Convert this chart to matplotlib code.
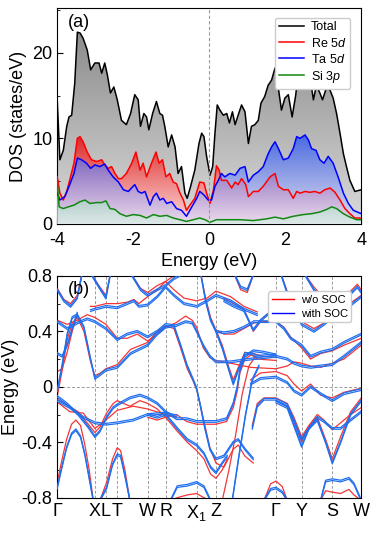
import numpy as np
import matplotlib
matplotlib.use("Agg")
import matplotlib.pyplot as plt
from matplotlib.lines import Line2D
from matplotlib.ticker import MultipleLocator

plt.rcParams['font.family'] = ['Liberation Sans', 'DejaVu Sans']
plt.rcParams['mathtext.fontset'] = 'custom'
plt.rcParams['mathtext.it'] = 'Liberation Sans:italic'
plt.rcParams['mathtext.rm'] = 'Liberation Sans'

# ---------------- DOS data (panel a) ----------------
E_tot = [-4.00,-3.93,-3.84,-3.75,-3.69,-3.62,-3.54,-3.47,-3.40,-3.32,-3.21,-3.12,-3.01,-2.90,-2.83,-2.75,-2.68,-2.60,-2.51,-2.42,
         -2.31,-2.18,-2.07,-1.96,-1.87,-1.81,-1.72,-1.65,-1.59,-1.49,-1.39,-1.30,-1.23,-1.17,-1.08,-0.99,-0.90,-0.82,-0.73,-0.64,
         -0.58,-0.49,-0.38,-0.27,-0.20,-0.14,-0.07,0.02,0.09,0.15,0.21,0.28,0.37,0.46,0.53,0.61,0.68,0.76,0.85,0.94,
         1.03,1.11,1.20,1.29,1.36,1.46,1.55,1.64,1.73,1.82,1.90,1.99,2.08,2.18,2.27,2.34,2.43,2.52,2.61,2.69,
         2.74,2.82,2.91,2.98,3.09,3.18,3.26,3.35,3.44,3.53,3.61,3.70,3.83,4.00]
dos_total = [14.5,7.5,8.6,11.4,12.5,12.7,16.4,22.4,22.3,21.7,20.3,18.0,18.8,18.8,17.6,18.8,17.4,15.3,16.0,14.5,
             12.1,11.6,12.9,15.1,14.5,11.4,12.9,12.5,11.0,12.9,14.3,12.9,12.7,11.4,9.0,10.4,9.0,5.9,6.7,3.6,
             3.0,4.4,6.3,9.4,10.6,10.2,7.9,5.7,6.7,10.6,13.9,13.3,12.7,12.9,11.8,13.1,11.6,12.7,13.9,13.1,
             9.4,11.4,11.6,12.1,14.1,14.9,16.2,16.8,18.2,15.8,13.3,14.7,15.1,12.5,14.9,17.4,16.4,17.4,16.4,16.0,
             14.5,16.2,15.3,14.5,16.0,15.6,14.7,12.9,10.6,8.2,6.7,5.1,3.8,4.0]

E_re = [-4.00,-3.93,-3.84,-3.75,-3.65,-3.56,-3.47,-3.40,-3.32,-3.21,-3.10,-2.96,-2.83,-2.75,-2.66,-2.57,-2.48,-2.39,-2.31,-2.18,
        -2.04,-1.93,-1.82,-1.74,-1.65,-1.52,-1.40,-1.32,-1.23,-1.14,-1.04,-0.95,-0.86,-0.77,-0.68,-0.60,-0.51,-0.38,-0.25,-0.14,
        -0.07,0.02,0.11,0.19,0.26,0.32,0.46,0.59,0.68,0.76,0.85,0.96,1.03,1.16,1.29,1.42,1.60,1.73,1.82,1.95,
        2.08,2.21,2.30,2.39,2.52,2.65,2.78,2.91,3.04,3.18,3.31,3.44,3.57,3.70,3.83,4.00]
dos_re5d = [5.5,3.6,2.8,3.8,5.5,7.1,10.0,10.2,9.6,8.4,7.5,7.3,7.5,6.9,6.5,6.7,5.9,5.3,5.3,5.9,
            7.1,8.4,6.3,7.1,5.5,7.1,8.4,7.1,7.5,5.5,5.9,4.9,4.7,3.6,2.8,1.6,2.2,3.0,4.9,4.8,
            3.6,2.4,4.0,6.8,6.3,5.1,5.1,4.2,4.9,4.6,5.3,4.6,3.2,3.8,3.8,4.4,5.5,5.9,4.4,4.0,
            4.0,3.0,3.8,3.6,3.8,3.7,3.8,3.6,4.0,4.2,3.7,2.8,1.8,1.2,0.7,0.7]

E_ta = [-4.00,-3.93,-3.80,-3.67,-3.56,-3.47,-3.36,-3.23,-3.12,-3.01,-2.88,-2.75,-2.66,-2.53,-2.39,-2.26,-2.13,-1.96,-1.87,-1.78,
        -1.69,-1.56,-1.47,-1.39,-1.30,-1.21,-1.12,-0.99,-0.86,-0.73,-0.60,-0.46,-0.33,-0.25,-0.14,-0.03,0.06,0.15,0.24,0.32,
        0.41,0.54,0.68,0.81,0.94,1.03,1.16,1.29,1.42,1.55,1.64,1.73,1.82,1.95,2.08,2.21,2.30,2.39,2.52,2.61,
        2.69,2.81,2.91,3.02,3.13,3.26,3.39,3.53,3.66,3.79,4.00]
dos_ta5d = [3.6,2.8,3.2,4.6,5.9,7.7,7.5,7.1,6.5,6.9,6.7,7.0,6.3,5.5,4.9,4.0,3.8,4.6,3.8,3.6,
            3.8,2.2,3.2,3.6,2.8,3.0,2.4,2.6,1.8,1.6,0.9,2.0,3.0,3.8,3.4,2.8,2.8,4.4,5.1,5.9,
            5.5,5.9,5.7,6.5,6.7,4.9,5.7,6.1,6.7,8.2,9.0,9.6,8.8,7.5,7.7,8.8,10.2,10.0,10.4,9.8,
            8.8,8.6,7.5,7.1,7.9,7.1,5.5,3.6,2.4,1.6,1.2]

E_si = [-4.00,-3.95,-3.84,-3.71,-3.56,-3.40,-3.27,-3.14,-2.96,-2.83,-2.72,-2.61,-2.48,-2.35,-2.18,-2.00,-1.82,-1.65,-1.47,-1.30,
        -1.12,-0.95,-0.77,-0.60,-0.42,-0.25,-0.11,0.02,0.19,0.46,0.81,1.16,1.51,1.73,1.95,2.21,2.47,2.69,2.91,3.09,
        3.22,3.35,3.53,3.70,3.88,4.00]
dos_si3p = [4.9,2.0,1.8,2.0,2.2,2.6,2.8,2.4,2.5,2.5,2.7,1.8,1.7,1.2,0.9,1.1,1.0,0.7,1.1,0.9,
            1.0,0.7,0.5,0.3,0.5,0.7,0.5,0.2,0.5,0.5,0.5,0.4,0.6,0.8,0.6,0.9,1.1,1.2,1.4,1.7,
            2.0,1.8,1.2,0.8,0.5,0.5]

# ---------------- Band data (panel b) ----------------
kpt_pos = [0.0, 1.13, 1.46, 1.80, 2.71, 3.25, 4.18, 4.76, 6.56, 7.33, 8.25, 9.12]
kpt_labels = ['Γ', 'X', 'L', 'T', 'W', 'R', 'X$_1$', 'Z', 'Γ', 'Y', 'S', 'W']
soc_split = 0.012

k_a = [0, 0.13, 0.28, 0.43, 0.56, 0.70, 0.83, 0.96, 1.08]
soc_a = [-0.73, -0.59, -0.44, -0.34, -0.31, -0.36, -0.49, -0.66, -0.82]
nosoc_a = [-0.69, -0.54, -0.38, -0.27, -0.24, -0.28, -0.42, -0.60, -0.82]

k_b = [1.28, 1.48, 1.66, 1.80, 1.90, 2.03, 2.18]
soc_b = [-0.82, -0.73, -0.56, -0.49, -0.50, -0.64, -0.82]
nosoc_b = [-0.82, -0.69, -0.52, -0.44, -0.46, -0.60, -0.82]

k_c = [0, 0.28, 0.63, 0.93, 1.13, 1.28, 1.48, 1.68, 1.80, 2.18, 2.48, 2.71, 3.00, 3.25, 3.58, 3.88, 4.18, 4.76,
       5.08, 5.28, 5.40, 5.48, 5.63, 5.88, 6.18, 6.56]
soc_c = [-0.07, -0.12, -0.20, -0.29, -0.36, -0.32, -0.22, -0.15, -0.13, -0.08, -0.06, -0.08, -0.12, -0.18, -0.23,
         -0.23, -0.25, -0.25, -0.23, -0.12, 0.00, 0.12, 0.22, 0.26, 0.25, 0.23]
nosoc_c = [-0.09, -0.13, -0.18, -0.27, -0.33, -0.29, -0.19, -0.12, -0.10, -0.14, -0.10, -0.12, -0.16, -0.22, -0.20,
           -0.25, -0.27, -0.27, -0.25, -0.15, -0.03, 0.10, 0.20, 0.24, 0.22, 0.21]

k_d = [0, 0.38, 0.78, 1.13, 1.46, 1.80, 2.28, 2.71, 3.25, 3.58]
soc_d = [-0.10, -0.15, -0.22, -0.26, -0.27, -0.26, -0.24, -0.20, -0.19, -0.21]
nosoc_d = [-0.11, -0.18, -0.19, -0.30, -0.24, -0.17, -0.14, -0.16, -0.20, -0.22]

k_e = [0, 0.15, 0.30, 0.45, 0.60, 0.80, 1.00, 1.13, 1.30, 1.46, 1.80, 2.20, 2.71, 3.00, 3.25, 3.50, 3.70, 3.90,
       4.08, 4.18, 4.28, 4.43, 4.58, 4.76, 5.00, 5.28, 5.43, 5.63, 5.88]
soc_e = [-0.03, 0.16, 0.38, 0.50, 0.52, 0.43, 0.20, 0.06, 0.09, 0.12, 0.14, 0.24, 0.30, 0.38, 0.43, 0.44, 0.30, 0.15,
         0.05, -0.01, -0.12, -0.30, -0.45, -0.52, -0.50, -0.40, -0.38, -0.45, -0.52]
nosoc_e = [-0.07, 0.12, 0.34, 0.46, 0.50, 0.40, 0.18, 0.08, 0.10, 0.13, 0.16, 0.27, 0.32, 0.40, 0.44, 0.42, 0.28, 0.13,
           0.04, -0.02, -0.12, -0.28, -0.44, -0.55, -0.58, -0.45, -0.42, -0.50, -0.55]

k_f = [0, 0.3, 0.6, 0.9, 1.13, 1.46, 1.80, 2.10, 2.40, 2.71, 3.00, 3.25, 3.55, 3.85, 4.05, 4.18, 4.38, 4.58, 4.76,
       5.20, 5.80, 6.56]
soc_f = [0.47, 0.42, 0.46, 0.49, 0.47, 0.42, 0.34, 0.38, 0.40, 0.36, 0.40, 0.45, 0.44, 0.47, 0.46, 0.40, 0.30, 0.22,
         0.18, 0.18, 0.20, 0.22]
nosoc_f = [0.48, 0.45, 0.48, 0.52, 0.50, 0.45, 0.35, 0.35, 0.38, 0.33, 0.38, 0.43, 0.46, 0.51, 0.48, 0.43, 0.28, 0.21,
           0.19, 0.17, 0.14, 0.13]

k_g = [1.0, 1.13, 1.46, 1.80, 2.10, 2.30, 2.45, 2.71, 3.00, 3.25, 3.50, 3.80, 4.18, 4.50, 4.76, 5.20, 5.60, 6.00]
soc_g = [0.55, 0.56, 0.58, 0.57, 0.60, 0.62, 0.58, 0.59, 0.65, 0.72, 0.66, 0.60, 0.58, 0.62, 0.66, 0.62, 0.56, 0.52]
nosoc_g = [0.58, 0.58, 0.60, 0.60, 0.61, 0.63, 0.60, 0.65, 0.70, 0.76, 0.70, 0.64, 0.62, 0.64, 0.69, 0.65, 0.58, 0.54]

k_h = [0, 0.15, 0.3, 0.45, 0.6]
soc_h = [0.24, 0.22, 0.30, 0.42, 0.53]
nosoc_h = [0.11, 0.13, 0.25, 0.40, 0.52]

k_i = [0, 0.2, 0.4, 0.6, 0.75]
soc_i = [0.70, 0.62, 0.58, 0.64, 0.82]
nosoc_i = [0.71, 0.63, 0.60, 0.66, 0.82]

k_j = [1.0, 1.25, 1.46, 1.60]
soc_j = [0.82, 0.72, 0.64, 0.82]
nosoc_j = [0.82, 0.73, 0.66, 0.82]

k_k = [2.2, 2.5, 2.71, 3.0, 3.25, 3.5, 3.8]
soc_k = [0.82, 0.70, 0.66, 0.70, 0.73, 0.78, 0.82]
nosoc_k = [0.82, 0.71, 0.68, 0.73, 0.76, 0.80, 0.82]

k_l = [4.3, 4.45, 4.6, 4.76, 5.0, 5.3, 5.6, 5.9, 6.2, 6.56]
soc_l = [0.82, 0.62, 0.48, 0.40, 0.39, 0.40, 0.43, 0.47, 0.47, 0.47]
nosoc_l = [0.82, 0.64, 0.50, 0.41, 0.38, 0.38, 0.42, 0.46, 0.47, 0.47]

k_m = [4.76, 4.95, 5.15, 5.28, 5.43, 5.63, 5.83, 6.0, 6.56]
soc_m = [0.40, 0.28, 0.12, 0.02, 0.12, 0.24, 0.24, 0.22, 0.23]
nosoc_m = [0.41, 0.30, 0.14, 0.05, 0.14, 0.25, 0.23, 0.20, 0.19]

k_n_nosoc = [4.95, 5.15, 5.35, 5.55, 5.75, 5.95]
nosoc_n = [-0.82, -0.60, -0.35, -0.05, 0.15, 0.22]
k_n_soc = [5.25, 5.45, 5.65, 5.85, 6.05]
soc_n = [-0.82, -0.50, -0.20, 0.05, 0.15]

k_p = [2.71, 3.0, 3.25, 3.6, 3.9, 4.18, 4.4, 4.6, 4.76, 4.95, 5.1]
soc_p = [-0.20, -0.22, -0.20, -0.30, -0.38, -0.42, -0.48, -0.58, -0.62, -0.55, -0.50]
nosoc_p = [-0.22, -0.24, -0.22, -0.32, -0.40, -0.46, -0.52, -0.63, -0.66, -0.60, -0.52]

k_q = [5.3, 5.5, 5.7, 5.9]
soc_q = [0.82, 0.72, 0.70, 0.82]
nosoc_q = [0.82, 0.70, 0.68, 0.82]

k_r = [5.0, 5.3, 5.6, 5.88, 6.1, 6.3, 6.56]
soc_r = [0.62, 0.58, 0.55, 0.41, 0.48, 0.52, 0.56]
nosoc_r = [0.64, 0.60, 0.56, 0.40, 0.47, 0.52, 0.56]

k_m1 = [3.4, 3.6, 3.9, 4.18, 4.4, 4.6]
soc_m1 = [-0.82, -0.72, -0.71, -0.69, -0.72, -0.82]
nosoc_m1 = [-0.82, -0.80, -0.78, -0.77, -0.80, -0.82]

k_r1 = [5.8, 6.1, 6.56, 6.9, 7.1, 7.33, 7.6, 7.9, 8.25, 8.6, 9.12]
soc_r1 = [0.02, 0.06, 0.07, 0.03, -0.03, -0.06, 0.00, -0.05, -0.10, -0.05, -0.02]
nosoc_r1 = [0.05, 0.10, 0.11, 0.08, 0.02, -0.03, 0.02, -0.06, -0.08, -0.04, -0.01]

k_r2 = [5.85, 6.0, 6.2, 6.56, 6.9, 7.1, 7.33, 7.55, 7.8, 8.05, 8.25, 8.5, 8.8, 9.12]
soc_r2 = [-0.30, -0.14, -0.09, -0.09, -0.13, -0.24, -0.38, -0.30, -0.24, -0.40, -0.55, -0.40, -0.20, -0.10]
nosoc_r2 = [-0.28, -0.12, -0.08, -0.08, -0.12, -0.22, -0.36, -0.28, -0.22, -0.38, -0.52, -0.36, -0.18, -0.08]

k_r3 = [6.56, 6.9, 7.1, 7.33, 7.55, 7.8, 8.0, 8.25, 8.5, 8.8, 9.12]
soc_r3 = [-0.11, -0.15, -0.28, -0.43, -0.30, -0.22, -0.25, -0.30, -0.30, -0.24, -0.18]
nosoc_r3 = [-0.10, -0.14, -0.25, -0.40, -0.28, -0.20, -0.24, -0.31, -0.26, -0.20, -0.15]

k_r4 = [6.56, 6.9, 7.1, 7.33, 7.6, 7.9, 8.25, 8.6, 9.12]
soc_r4 = [0.22, 0.20, 0.17, 0.15, 0.14, 0.15, 0.16, 0.22, 0.32]
nosoc_r4 = [0.13, 0.15, 0.18, 0.17, 0.15, 0.14, 0.17, 0.20, 0.30]

k_r5 = [6.56, 6.8, 7.0, 7.33, 7.6, 7.9, 8.25, 8.6, 9.12]
soc_r5 = [0.47, 0.42, 0.35, 0.30, 0.22, 0.25, 0.27, 0.32, 0.38]
nosoc_r5 = [0.47, 0.43, 0.36, 0.28, 0.20, 0.24, 0.26, 0.30, 0.35]

k_r6 = [6.7, 7.0, 7.33, 7.7, 8.0, 8.25, 8.6, 9.12]
soc_r6 = [0.82, 0.60, 0.45, 0.40, 0.45, 0.50, 0.55, 0.65]
nosoc_r6 = [0.82, 0.62, 0.47, 0.42, 0.46, 0.52, 0.57, 0.66]

k_r7 = [7.4, 7.7, 8.0, 8.25, 8.6, 9.0, 9.12]
soc_r7 = [0.82, 0.70, 0.62, 0.58, 0.62, 0.72, 0.68]
nosoc_r7 = [0.82, 0.72, 0.64, 0.60, 0.64, 0.74, 0.70]

k_r8 = [7.9, 8.05, 8.25, 8.5, 8.75, 8.9, 9.12]
soc_r8 = [-0.82, -0.68, -0.67, -0.68, -0.66, -0.70, -0.82]
nosoc_r8 = [-0.82, -0.75, -0.76, -0.77, -0.74, -0.78, -0.82]

k_r9 = [6.2, 6.4, 6.56, 6.75, 6.9]
soc_r9 = [-0.82, -0.74, -0.73, -0.76, -0.82]
nosoc_r9 = [-0.82, -0.70, -0.68, -0.72, -0.82]

bands = [
    (k_a, nosoc_a, k_a, soc_a), (k_b, nosoc_b, k_b, soc_b), (k_c, nosoc_c, k_c, soc_c),
    (k_d, nosoc_d, k_d, soc_d), (k_e, nosoc_e, k_e, soc_e), (k_f, nosoc_f, k_f, soc_f),
    (k_g, nosoc_g, k_g, soc_g), (k_h, nosoc_h, k_h, soc_h), (k_i, nosoc_i, k_i, soc_i),
    (k_j, nosoc_j, k_j, soc_j), (k_k, nosoc_k, k_k, soc_k), (k_l, nosoc_l, k_l, soc_l),
    (k_m, nosoc_m, k_m, soc_m), (k_n_nosoc, nosoc_n, k_n_soc, soc_n), (k_p, nosoc_p, k_p, soc_p),
    (k_q, nosoc_q, k_q, soc_q), (k_r, nosoc_r, k_r, soc_r), (k_m1, nosoc_m1, k_m1, soc_m1),
    (k_r1, nosoc_r1, k_r1, soc_r1), (k_r2, nosoc_r2, k_r2, soc_r2), (k_r3, nosoc_r3, k_r3, soc_r3),
    (k_r4, nosoc_r4, k_r4, soc_r4), (k_r5, nosoc_r5, k_r5, soc_r5), (k_r6, nosoc_r6, k_r6, soc_r6),
    (k_r7, nosoc_r7, k_r7, soc_r7), (k_r8, nosoc_r8, k_r8, soc_r8), (k_r9, nosoc_r9, k_r9, soc_r9),
]

# ---------------- Figure ----------------
fig = plt.figure(figsize=(3.74, 5.45), dpi=100)
ax1 = fig.add_axes([0.153, 0.589, 0.813, 0.396])
ax2 = fig.add_axes([0.153, 0.0868, 0.813, 0.407])


def grad_fill(ax, x, y, top, bot, a_top, a_bot, z):
    x = np.asarray(x, float)
    y = np.asarray(y, float)
    poly = ax.fill_between(x, 0, y, facecolor='none', edgecolor='none')
    path = poly.get_paths()[0]
    n = 256
    t = np.linspace(0, 1, n)[:, None]
    img = np.zeros((n, 1, 4))
    top = np.array(top); bot = np.array(bot)
    img[:, :, :3] = (bot + (top - bot) * t[..., None])
    img[:, :, 3] = a_bot + (a_top - a_bot) * t
    im = ax.imshow(img, extent=[x.min(), x.max(), 0, y.max()], origin='lower',
                   aspect='auto', zorder=z, interpolation='bilinear')
    im.set_clip_path(path, transform=ax.transData)


grad_fill(ax1, E_tot, dos_total, (0.55, 0.55, 0.55), (0.86, 0.86, 0.86), 1.0, 1.0, 1)
grad_fill(ax1, E_re, dos_re5d, (0.86, 0.16, 0.16), (1.0, 0.86, 0.86), 1.0, 1.0, 2)
grad_fill(ax1, E_ta, dos_ta5d, (0.12, 0.30, 0.95), (0.86, 0.86, 1.0), 0.75, 0.55, 3)
grad_fill(ax1, E_si, dos_si3p, (0.55, 0.80, 0.70), (0.85, 0.93, 0.90), 0.75, 0.75, 4)

ax1.plot(E_tot, dos_total, color='black', lw=1.1, zorder=6, label='Total')
ax1.plot(E_re, dos_re5d, color='#ff0000', lw=1.1, zorder=6, label='Re 5$d$')
ax1.plot(E_ta, dos_ta5d, color='#0000ff', lw=1.1, zorder=7, label='Ta 5$d$')
ax1.plot(E_si, dos_si3p, color='#118811', lw=1.1, zorder=8, label='Si 3$p$')
ax1.axvline(0, color='#999999', lw=0.8, ls=(0, (3, 2)), zorder=9)

ax1.set_xlim(-4, 4)
ax1.set_ylim(0, 25.2)
ax1.set_xticks([-4, -2, 0, 2, 4])
ax1.set_xticklabels(['-4', '-2', '0', '2', '4'])
ax1.set_yticks([0, 10, 20])
ax1.xaxis.set_minor_locator(MultipleLocator(1))
ax1.yaxis.set_minor_locator(MultipleLocator(5))
ax1.tick_params(which='both', direction='in', labelsize=13, top=False, right=False)
ax1.tick_params(axis='x', which='major', pad=6)
ax1.tick_params(which='major', length=4)
ax1.tick_params(which='minor', length=2)
ax1.set_xlabel('Energy (eV)', fontsize=13, labelpad=3)
ax1.set_ylabel('DOS (states/eV)', fontsize=13, labelpad=4)
ax1.text(0.035, 0.975, '(a)', transform=ax1.transAxes, fontsize=13, va='top', ha='left', zorder=10)
leg1 = ax1.legend(loc='upper right', fontsize=9, handlelength=2.0, labelspacing=0.25,
                  borderpad=0.3, handletextpad=0.6, bbox_to_anchor=(0.985, 0.985), framealpha=1)
leg1.set_zorder(20)

# ---------------- Bands ----------------
red_c = '#f53535'
blue_c = '#1f6ff0'
for kn, en, ks, es in bands:
    ax2.plot(kn, en, color=red_c, lw=0.9, zorder=2)
for kn, en, ks, es in bands:
    es = np.asarray(es)
    ax2.plot(ks, es + soc_split / 2, color=blue_c, lw=0.9, zorder=3)
    ax2.plot(ks, es - soc_split / 2, color=blue_c, lw=0.9, zorder=3)

for kp in kpt_pos[1:-1]:
    ax2.axvline(kp, color='#999999', lw=0.7, ls=(0, (3, 2)), zorder=1)
ax2.axhline(0, color='#999999', lw=0.7, ls=(0, (3, 2)), zorder=1)

ax2.set_xlim(kpt_pos[0], kpt_pos[-1])
ax2.set_ylim(-0.8, 0.8)
ax2.set_xticks(kpt_pos)
ax2.set_xticklabels(kpt_labels)
ax2.set_yticks([-0.8, -0.4, 0, 0.4, 0.8])
ax2.set_yticklabels(['-0.8', '-0.4', '0', '0.4', '0.8'])
ax2.yaxis.set_minor_locator(MultipleLocator(0.2))
ax2.tick_params(axis='x', length=0, labelsize=13, pad=4)
ax2.tick_params(axis='y', which='both', direction='in', labelsize=13)
ax2.tick_params(axis='y', which='major', length=4)
ax2.tick_params(axis='y', which='minor', length=2)
ax2.set_ylabel('Energy (eV)', fontsize=13, labelpad=2)
ax2.text(0.035, 0.975, '(b)', transform=ax2.transAxes, fontsize=13, va='top', ha='left', zorder=10)
handles = [Line2D([], [], color='#ff0000', lw=1.0), Line2D([], [], color='#0000ff', lw=1.0)]
leg2 = ax2.legend(handles, ['w/o SOC', 'with SOC'], loc='upper right', fontsize=8,
                  handlelength=2.0, labelspacing=0.35, borderpad=0.3, handletextpad=0.6,
                  bbox_to_anchor=(0.985, 0.955), framealpha=1)
leg2.set_zorder(20)

fig.savefig('out.png', dpi=100)
